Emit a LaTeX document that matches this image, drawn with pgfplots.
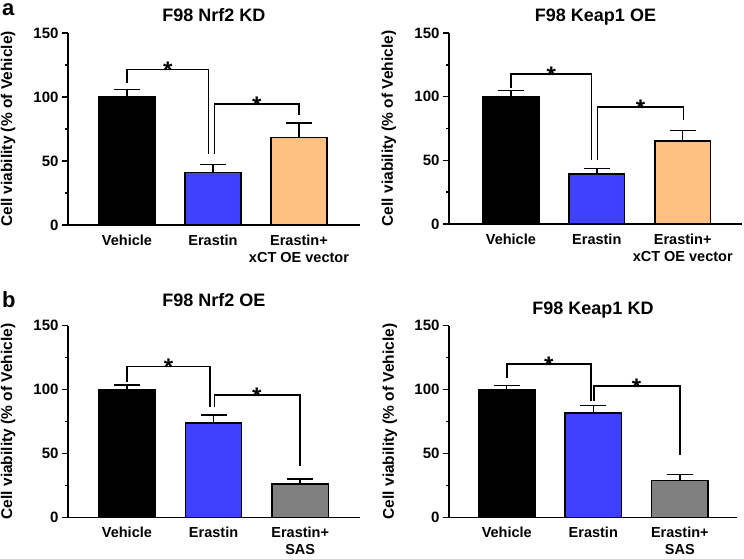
\documentclass[border=0pt]{standalone}
\usepackage{pgfplots}
\pgfplotsset{compat=1.18}
\usepackage{fontspec}
\setmainfont{Liberation Sans}

\definecolor{barblue}{RGB}{64,64,255}
\definecolor{barorange}{RGB}{255,192,128}
\definecolor{bargrey}{RGB}{128,128,128}

\pgfplotsset{
  panel/.style={
    scale only axis,
    ymin=0, ymax=150,
    ytick={0,50,100,150},
    minor ytick={25,75,125},
    axis x line*=bottom,
    axis y line*=left,
    axis line style={line width=1.5pt},
    tick align=outside,
    major tick length=6pt,
    minor tick length=3pt,
    every tick/.style={line width=1.5pt, black},
    xtick={0,1,2},
    major x tick style={draw=none},
    /pgf/number format/assume math mode=true,
    yticklabel style={font=\bfseries\fontsize{15}{15}\selectfont},
    xticklabel style={font=\bfseries\fontsize{14.5}{17.5}\selectfont, align=center},
    ylabel={Cell viability (\% of Vehicle)},
    ylabel style={at={(axis description cs:-0.205,0.5)}, anchor=center,
      font=\bfseries\fontsize{15.5}{15.5}\selectfont},
    title style={at={(0.5,1)}, anchor=base, yshift=5pt,
      font=\bfseries\fontsize{18}{18}\selectfont},
    anchor=south west,
  },
  cvbar/.style={
    ybar, bar width=0.65, bar shift=0pt, draw=black, line width=1.5pt, fill=#1,
    error bars/.cd, y dir=plus, y explicit,
    error bar style={line width=1.5pt, black},
    error mark options={rotate=90, mark size=13pt, line width=1.5pt, black},
  },
}
\tikzset{
  bracket/.style={line width=1.6pt, black},
  star/.style={font=\bfseries\fontsize{24}{24}\selectfont, anchor=base, inner sep=0pt},
}

\begin{document}
\begin{tikzpicture}
\useasboundingbox (0,0) rectangle (744pt,558pt);

% ---------- a: F98 Nrf2 KD ----------
\begin{axis}[panel, at={(68pt,333pt)}, width=292pt, height=192pt,
    xmin=-0.686, xmax=2.71, title={F98 Nrf2 KD},
    xticklabels={Vehicle, Erastin, {Erastin+\\xCT OE vector}}]
  \addplot[cvbar=black] coordinates {(0,100) +- (0,6.0)};
  \addplot[cvbar=barblue] coordinates {(1,41.0) +- (0,6.4)};
  \addplot[cvbar=barorange] coordinates {(2,68.5) +- (0,11.0)};
  \draw[bracket] (axis cs:0,110.7) |- (axis cs:0.95,121.6) -- (axis cs:0.95,55.5);
  \node[star] at ([yshift=-9.5pt]axis cs:0.475,121.6) {*};
  \draw[bracket] (axis cs:1.02,55.5) |- (axis cs:2,94.3) -- (axis cs:2,86);
  \node[star] at ([yshift=-9.5pt]axis cs:1.51,94.3) {*};
\end{axis}

% ---------- a: F98 Keap1 OE ----------
\begin{axis}[panel, at={(449pt,334pt)}, width=293pt, height=191pt,
    xmin=-0.72, xmax=2.69, title={F98 Keap1 OE},
    xticklabels={Vehicle, Erastin, {Erastin+\\xCT OE vector}}]
  \addplot[cvbar=black] coordinates {(0,100) +- (0,4.7)};
  \addplot[cvbar=barblue] coordinates {(1,39.3) +- (0,4.4)};
  \addplot[cvbar=barorange] coordinates {(2,65.2) +- (0,8.1)};
  \draw[bracket] (axis cs:0,106.6) |- (axis cs:0.94,117.8) -- (axis cs:0.94,50.3);
  \node[star] at ([yshift=-9.5pt]axis cs:0.47,117.8) {*};
  \draw[bracket] (axis cs:1.01,50.3) |- (axis cs:2.01,92) -- (axis cs:2.01,82);
  \node[star] at ([yshift=-9.5pt]axis cs:1.51,92) {*};
\end{axis}

% ---------- b: F98 Nrf2 OE ----------
\begin{axis}[panel, at={(68pt,40.7pt)}, width=292pt, height=191.6pt,
    xmin=-0.68, xmax=2.69, title={F98 Nrf2 OE}, title style={yshift=8pt},
    xticklabels={Vehicle, Erastin, {Erastin+\\SAS}}]
  \addplot[cvbar=black] coordinates {(0,100) +- (0,3.6)};
  \addplot[cvbar=barblue] coordinates {(1,73.8) +- (0,6.3)};
  \addplot[cvbar=bargrey] coordinates {(2,26.1) +- (0,3.9)};
  \draw[bracket] (axis cs:0,106) |- (axis cs:0.96,118.2) -- (axis cs:0.96,86.1);
  \node[star] at ([yshift=-9.5pt]axis cs:0.48,118.2) {*};
  \draw[bracket] (axis cs:1.01,86.1) |- (axis cs:2,95.8) -- (axis cs:2,39.9);
  \node[star] at ([yshift=-9.5pt]axis cs:1.5,95.8) {*};
\end{axis}

% ---------- b: F98 Keap1 KD ----------
\begin{axis}[panel, at={(449pt,40.7pt)}, width=288pt, height=191.6pt,
    xmin=-0.667, xmax=2.66, title={F98 Keap1 KD},
    xticklabels={Vehicle, Erastin, {Erastin+\\SAS}}]
  \addplot[cvbar=black] coordinates {(0,100) +- (0,3.0)};
  \addplot[cvbar=barblue] coordinates {(1,81.7) +- (0,5.7)};
  \addplot[cvbar=bargrey] coordinates {(2,28.7) +- (0,4.7)};
  \draw[bracket] (axis cs:0,108.8) |- (axis cs:0.97,120) -- (axis cs:0.97,91.3);
  \node[star] at ([yshift=-9.5pt]axis cs:0.485,120) {*};
  \draw[bracket] (axis cs:1.01,91.3) |- (axis cs:2,102.6) -- (axis cs:2,48.8);
  \node[star] at ([yshift=-9.5pt]axis cs:1.5,102.6) {*};
\end{axis}

% panel letters
\node[font=\bfseries\fontsize{22}{22}\selectfont, anchor=base west, inner sep=0pt] at (2pt,542pt) {a};
\node[font=\bfseries\fontsize{22}{22}\selectfont, anchor=base west, inner sep=0pt] at (2pt,251pt) {b};
\end{tikzpicture}
\end{document}
